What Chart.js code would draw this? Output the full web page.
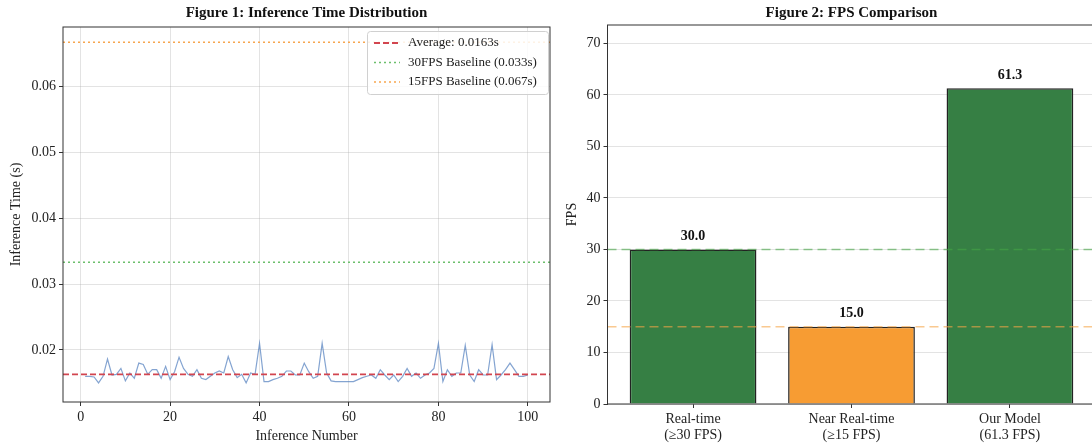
<!DOCTYPE html>
<html>
<head>
<meta charset="utf-8">
<script src="https://cdn.jsdelivr.net/npm/chart.js@4.4.1/dist/chart.umd.min.js"></script>
<style>
  html, body { margin: 0; padding: 0; background: #fff; overflow: hidden; }
  #wrap { position: relative; width: 1092px; height: 445px; overflow: hidden; }
  #timeBox { position: absolute; left: 0; top: 0; width: 560px; height: 445px; }
  #fpsBox { position: absolute; left: 560px; top: 0; width: 540px; height: 445px; }
</style>
</head>
<body>
<div id="wrap">
  <div id="timeBox"><canvas id="timeChart"></canvas></div>
  <div id="fpsBox"><canvas id="fpsChart"></canvas></div>
</div>
<script>
// ---- data: figure 1 ----
const inferenceTimes = [
  0.0160, 0.0160, 0.0159, 0.0150, 0.0160, 0.0186, 0.0162, 0.0163, 0.0172, 0.0153,
  0.0165, 0.0157, 0.0180, 0.0178, 0.0163, 0.0170, 0.0170, 0.0157, 0.0175, 0.0155,
  0.0167, 0.0189, 0.0172, 0.0163, 0.0160, 0.0170, 0.0157, 0.0155, 0.0160, 0.0165,
  0.0168, 0.0165, 0.0190, 0.0170, 0.0158, 0.0163, 0.0150, 0.0165, 0.0163, 0.0210,
  0.0152, 0.0152, 0.0155, 0.0157, 0.0160, 0.0168, 0.0168, 0.0162, 0.0162, 0.0180,
  0.0167, 0.0157, 0.0160, 0.0210, 0.0165, 0.0153, 0.0152, 0.0152, 0.0152, 0.0152,
  0.0152, 0.0155, 0.0158, 0.0160, 0.0162, 0.0157, 0.0170, 0.0162, 0.0155, 0.0162,
  0.0152, 0.0160, 0.0172, 0.0160, 0.0165, 0.0157, 0.0162, 0.0165, 0.0172, 0.0210,
  0.0152, 0.0170, 0.0160, 0.0165, 0.0165, 0.0207, 0.0162, 0.0152, 0.0170, 0.0162,
  0.0162, 0.0208, 0.0155, 0.0162, 0.0170, 0.0180, 0.0170, 0.0160, 0.0160, 0.0162
];
const inferenceNums = inferenceTimes.map((v, i) => i + 1);
const refTimes = [0.0163, 0.0333, 0.0667];
const refLabels = ['Average: 0.0163s', '30FPS Baseline (0.033s)', '15FPS Baseline (0.067s)'];
const timeXTicks = [0, 20, 40, 60, 80, 100];
const timeYTicks = [0.02, 0.03, 0.04, 0.05, 0.06];

// ---- data: figure 2 ----
const fpsCats = [['Real-time', '(\u226530 FPS)'], ['Near Real-time', '(\u226515 FPS)'], ['Our Model', '(61.3 FPS)']];
const fpsValues = [30.0, 15.0, 61.3];
const fpsRefs = [30, 15];
const fpsYTicks = [0, 10, 20, 30, 40, 50, 60, 70];

Chart.defaults.font.family = "'Liberation Serif', 'DejaVu Serif', serif";
Chart.defaults.font.size = 14;
Chart.defaults.color = '#222';
Chart.defaults.animation = false;

const refColors = ['#d2454f', '#6cbf6c', '#f7a64f'];
const refDash = [[6, 3], [2, 3], [2, 3]];

const framePlugin = {
  id: 'frame',
  afterDraw(chart) {
    const { ctx, chartArea: a } = chart;
    ctx.save();
    ctx.strokeStyle = '#333';
    ctx.lineWidth = 1;
    ctx.strokeRect(a.left, a.top, a.right - a.left, a.bottom - a.top);
    // title
    ctx.fillStyle = '#111';
    ctx.font = "bold 15px 'Liberation Serif', serif";
    ctx.textAlign = 'center';
    ctx.textBaseline = 'middle';
    ctx.fillText(chart.options.plugins.frame.title, (a.left + a.right) / 2, 13);
    ctx.restore();
  }
};

const legendPlugin = {
  id: 'refLegend',
  afterDraw(chart) {
    if (!chart.options.plugins.refLegend.show) return;
    const ctx = chart.ctx;
    ctx.save();
    const bx = 367, by = 31, bw = 181, bh = 63;
    ctx.fillStyle = 'rgba(255,255,255,0.85)';
    ctx.strokeStyle = '#d0d0d0';
    ctx.lineWidth = 1;
    ctx.beginPath();
    ctx.roundRect(bx + 0.5, by + 0.5, bw, bh, 3);
    ctx.fill();
    ctx.stroke();
    ctx.font = "13px 'Liberation Serif', serif";
    ctx.textBaseline = 'middle';
    ctx.textAlign = 'left';
    refLabels.forEach((lab, i) => {
      const y = by + 12 + i * 19.5;
      ctx.strokeStyle = refColors[i];
      ctx.lineWidth = i === 0 ? 1.8 : 1.5;
      ctx.setLineDash(refDash[i]);
      ctx.beginPath();
      ctx.moveTo(bx + 7, y);
      ctx.lineTo(bx + 33, y);
      ctx.stroke();
      ctx.setLineDash([]);
      ctx.fillStyle = '#222';
      ctx.fillText(lab, bx + 41, y);
    });
    ctx.restore();
  }
};

const barLabelPlugin = {
  id: 'barLabels',
  afterDatasetsDraw(chart) {
    if (!chart.options.plugins.barLabels.show) return;
    const ctx = chart.ctx;
    const meta = chart.getDatasetMeta(chart.data.datasets.findIndex(d => d.type === 'bar'));
    ctx.save();
    ctx.font = "bold 14px 'Liberation Serif', serif";
    ctx.fillStyle = '#111';
    ctx.textAlign = 'center';
    ctx.textBaseline = 'middle';
    meta.data.forEach((el, i) => {
      ctx.fillText(fpsValues[i].toFixed(1), el.x, el.y - 13);
    });
    ctx.restore();
  }
};

// ---- figure 1 ----
const tMin = -3.95, tMax = 104.95;
const timeDatasets = [{
  data: inferenceTimes.map((v, i) => ({ x: inferenceNums[i], y: v })),
  borderColor: 'rgba(80,125,190,0.7)',
  borderWidth: 1.2,
  pointRadius: 0,
  order: 5
}];
refTimes.forEach((v, i) => {
  timeDatasets.push({
    data: [{ x: tMin, y: v }, { x: tMax, y: v }],
    borderColor: refColors[i],
    borderWidth: i === 0 ? 1.8 : 1.5,
    borderDash: refDash[i],
    pointRadius: 0,
    order: i + 1
  });
});

new Chart(document.getElementById('timeChart'), {
  type: 'line',
  data: { datasets: timeDatasets },
  plugins: [framePlugin, legendPlugin],
  options: {
    responsive: true,
    maintainAspectRatio: false,
    events: [],
    layout: { padding: { top: 27, right: 10, left: 0, bottom: 0 } },
    plugins: {
      legend: { display: false },
      tooltip: { enabled: false },
      frame: { title: 'Figure 1: Inference Time Distribution' },
      refLegend: { show: true }
    },
    scales: {
      x: {
        type: 'linear', min: tMin, max: tMax,
        afterBuildTicks: s => { s.ticks = timeXTicks.map(v => ({ value: v })); },
        afterFit: s => { s.height = 43; },
        ticks: { padding: 3, maxRotation: 0, autoSkip: false, color: '#222' },
        grid: { color: 'rgba(176,176,176,0.35)', tickColor: '#333', tickLength: 4 },
        border: { display: false },
        title: { display: true, text: 'Inference Number', padding: { top: 0, bottom: 0 }, color: '#222' }
      },
      y: {
        min: 0.0121, max: 0.0690,
        afterBuildTicks: s => { s.ticks = timeYTicks.map(v => ({ value: v })); },
        afterFit: s => { s.width = 63; },
        ticks: { padding: 3, callback: v => v.toFixed(2), color: '#222' },
        grid: { color: 'rgba(176,176,176,0.35)', tickColor: '#333', tickLength: 4 },
        border: { display: false },
        title: { display: true, text: 'Inference Time (s)', padding: { top: 8 }, color: '#222' }
      }
    }
  }
});

// ---- figure 2 ----
const fMin = -0.54, fMax = 2.54;
const fpsDatasets = [{
  type: 'bar',
  data: fpsValues.map((v, i) => ({ x: i, y: v })),
  backgroundColor: ['#367f44', '#f79c33', '#367f44'],
  borderColor: '#222',
  borderWidth: 1.5,
  barPercentage: 1,
  categoryPercentage: 0.8,
  order: 5
}];
const fpsRefColors = ['rgba(70,165,70,0.6)', 'rgba(245,165,70,0.6)'];
fpsRefs.forEach((v, i) => {
  fpsDatasets.push({
    type: 'line',
    data: [{ x: fMin, y: v }, { x: fMax, y: v }],
    borderColor: fpsRefColors[i],
    borderWidth: 1.5,
    borderDash: [9, 5],
    pointRadius: 0,
    order: i + 1
  });
});

new Chart(document.getElementById('fpsChart'), {
  type: 'bar',
  data: { datasets: fpsDatasets },
  plugins: [framePlugin, barLabelPlugin],
  options: {
    responsive: true,
    maintainAspectRatio: false,
    events: [],
    layout: { padding: { top: 25, right: 4.5, left: 0, bottom: 0 } },
    plugins: {
      legend: { display: false },
      tooltip: { enabled: false },
      frame: { title: 'Figure 2: FPS Comparison' },
      barLabels: { show: true }
    },
    scales: {
      x: {
        type: 'linear', min: fMin, max: fMax, offset: false,
        afterBuildTicks: s => { s.ticks = fpsValues.map((v, i) => ({ value: i })); },
        afterFit: s => { s.height = 41; },
        ticks: { padding: 3, maxRotation: 0, autoSkip: false, color: '#222',
                 font: { lineHeight: 1.15 },
                 callback: v => fpsCats[v] },
        grid: { offset: false, drawOnChartArea: false, tickColor: '#333', tickLength: 4 },
        border: { display: false }
      },
      y: {
        min: 0, max: 73.56,
        afterBuildTicks: s => { s.ticks = fpsYTicks.map(v => ({ value: v })); },
        afterFit: s => { s.width = 47.5; },
        ticks: { padding: 3, color: '#222' },
        grid: { color: 'rgba(176,176,176,0.35)', tickColor: '#333', tickLength: 4 },
        border: { display: false },
        title: { display: true, text: 'FPS', padding: { top: 4 }, color: '#222' }
      }
    }
  }
});
</script>
</body>
</html>
